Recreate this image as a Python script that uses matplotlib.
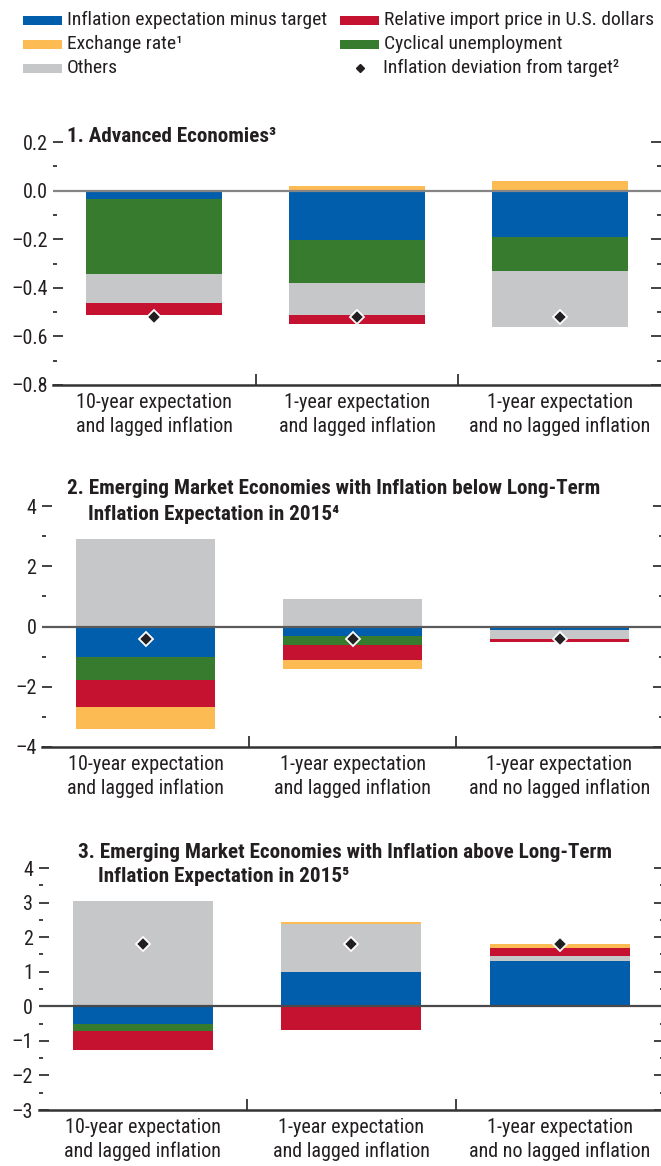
import matplotlib.pyplot as plt
from matplotlib.patches import Rectangle
from matplotlib.ticker import MultipleLocator, FixedLocator

plt.rcParams['font.family'] = ['Roboto Condensed', 'DejaVu Sans']
plt.rcParams['font.stretch'] = 'condensed'
plt.rcParams['axes.unicode_minus'] = True

W, H = 661, 1166

specs = ['10-year expectation\nand lagged inflation',
         '1-year expectation\nand lagged inflation',
         '1-year expectation\nand no lagged inflation']

# stacking order: expectation, unemployment, others, import price, exchange rate
names = ['Inflation expectation minus target', 'Cyclical unemployment', 'Others',
         'Relative import price in U.S. dollars', 'Exchange rate¹']
colors = ['#005EAD', '#367B2E', '#C6C7C9', '#C41230', '#FDBB53']

# 1. advanced economies
adv_expect = [-0.034, -0.202, -0.191]
adv_unemp = [-0.310, -0.179, -0.141]
adv_others = [-0.120, -0.132, -0.231]
adv_import = [-0.049, -0.036, 0.0]
adv_fx = [0.0, 0.019, 0.040]
adv_dev = [-0.52, -0.52, -0.52]

# 2. EMs with inflation below long-term expectation
below_expect = [-1.01, -0.33, -0.10]
below_unemp = [-0.75, -0.30, 0.0]
below_others = [2.91, 0.92, -0.31]
below_import = [-0.91, -0.48, -0.09]
below_fx = [-0.72, -0.30, 0.01]
below_dev = [-0.43, -0.43, -0.43]

# 3. EMs with inflation above long-term expectation
above_expect = [-0.51, 0.98, 1.31]
above_unemp = [-0.20, 0.0, 0.0]
above_others = [3.05, 1.39, 0.15]
above_import = [-0.55, -0.68, 0.23]
above_fx = [0.0, 0.08, 0.12]
above_dev = [1.80, 1.80, 1.80]


def box(left, top, right, bottom):
    return [left / W, 1 - bottom / H, (right - left) / W, (bottom - top) / H]


def stacked(ax, series, dev):
    x = range(len(specs))
    pos = [0.0] * len(specs)
    neg = [0.0] * len(specs)
    for vals, c in zip(series, colors):
        base = [p if v >= 0 else n for v, p, n in zip(vals, pos, neg)]
        ax.bar(x, vals, bottom=base, width=0.67, color=c, linewidth=0, zorder=2)
        pos = [p + v if v >= 0 else p for v, p in zip(vals, pos)]
        neg = [n + v if v < 0 else n for v, n in zip(vals, neg)]
    ax.plot(x, dev, linestyle='none', marker='D', markersize=7,
            markerfacecolor='#231F20', markeredgecolor='white', markeredgewidth=1.3, zorder=4)


def style(ax, lo, hi, major, minor, fmt, zero_color):
    ax.set_xlim(-0.5, 2.5)
    ax.set_ylim(lo, hi)
    ax.axhline(0, color=zero_color, linewidth=1.6, zorder=3)
    for s in ['left', 'right', 'top']:
        ax.spines[s].set_visible(False)
    ax.spines['bottom'].set_color('#333333')
    ax.spines['bottom'].set_linewidth(1.8)
    ax.yaxis.set_major_locator(MultipleLocator(major))
    ax.yaxis.set_minor_locator(MultipleLocator(minor))
    ax.yaxis.set_major_formatter(fmt)
    ax.tick_params(axis='y', which='major', direction='in', length=7, width=1.3,
                   color='#333333', labelsize=14.5, pad=4, right=True)
    ax.tick_params(axis='y', which='minor', direction='in', length=3, width=1.3,
                   color='#333333', right=True)
    ax.set_xticks(range(len(specs)))
    ax.set_xticklabels(specs, fontsize=14.5, color='#231F20', linespacing=1.3)
    ax.tick_params(axis='x', which='major', length=0, pad=6)
    ax.xaxis.set_minor_locator(FixedLocator([0.5, 1.5]))
    ax.tick_params(axis='x', which='minor', direction='in', length=8, width=1.3, color='#333333')
    ax.tick_params(axis='y', labelcolor='#231F20')


fig = plt.figure(figsize=(W / 100, H / 100), dpi=100)

ax1 = fig.add_axes(box(53, 142, 661, 385))
stacked(ax1, [adv_expect, adv_unemp, adv_others, adv_import, adv_fx], adv_dev)
style(ax1, -0.8, 0.2, 0.2, 0.1, lambda v, p: f'{v:.1f}'.replace('-', '\u2013'), '#858585')

ax2 = fig.add_axes(box(42, 506, 663, 747))
stacked(ax2, [below_expect, below_unemp, below_others, below_import, below_fx], below_dev)
style(ax2, -4, 4, 2, 1, lambda v, p: f'{v:.0f}'.replace('-', '\u2013'), '#5A5A5A')

ax3 = fig.add_axes(box(38.5, 868, 664, 1110))
stacked(ax3, [above_expect, above_unemp, above_others, above_import, above_fx], above_dev)
style(ax3, -3, 4, 1, 0.5, lambda v, p: f'{v:.0f}'.replace('-', '\u2013'), '#4A4A4A')

# panel titles
tkw = dict(fontsize=15.2, fontweight='bold', color='#231F20', va='center', ha='left')
fig.text(67 / W, 1 - 137 / H, '1. Advanced Economies³', **tkw)
fig.text(67 / W, 1 - 488 / H, '2. Emerging Market Economies with Inflation below Long-Term', **tkw)
fig.text(88 / W, 1 - 515 / H, 'Inflation Expectation in 2015⁴', **tkw)
fig.text(78 / W, 1 - 852 / H, '3. Emerging Market Economies with Inflation above Long-Term', **tkw)
fig.text(98 / W, 1 - 877 / H, 'Inflation Expectation in 2015⁵', **tkw)

# legend
legend_rows = [(23, 20, colors[0], names[0]), (23, 44, colors[4], names[4]),
               (23, 68, colors[2], names[2]), (340, 20, colors[3], names[3]),
               (340, 44, colors[1], names[1])]
for lx, ly, c, label in legend_rows:
    fig.patches.append(Rectangle((lx / W, 1 - (ly + 4.5) / H), 39 / W, 9 / H,
                                 transform=fig.transFigure, color=c, linewidth=0))
    fig.text((lx + 44) / W, 1 - ly / H, label, fontsize=14, color='#231F20',
             va='center', ha='left')
fig.lines.append(plt.Line2D([360 / W], [1 - 68 / H], transform=fig.transFigure,
                            marker='D', markersize=4.5, color='#231F20', linestyle='none'))
fig.text(383 / W, 1 - 68 / H, 'Inflation deviation from target²', fontsize=14,
         color='#231F20', va='center', ha='left')

fig.savefig('out.png', dpi=100)
